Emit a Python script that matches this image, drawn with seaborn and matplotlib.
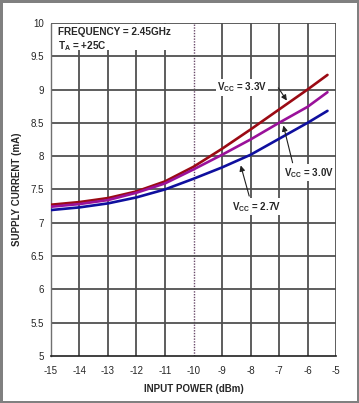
import numpy as np
import pandas as pd
import matplotlib
matplotlib.use("Agg")
import matplotlib.pyplot as plt
import seaborn as sns
from matplotlib.patches import Rectangle

# values
input_power = [-15, -14, -13, -12, -11, -10, -9, -8, -7, -6, -5.3]
i_33 = [7.27, 7.31, 7.37, 7.47, 7.62, 7.84, 8.11, 8.40, 8.70, 9.00, 9.22]
i_30 = [7.24, 7.28, 7.34, 7.45, 7.59, 7.80, 8.02, 8.25, 8.50, 8.74, 8.96]
i_27 = [7.19, 7.23, 7.29, 7.38, 7.50, 7.66, 7.83, 8.02, 8.26, 8.50, 8.68]
series_names = ["3.3V", "3.0V", "2.7V"]
series_colors = ["#9b0a14", "#9a119a", "#0f0f9e"]

x_ticks = list(range(-15, -4))
y_ticks = [5, 5.5, 6, 6.5, 7, 7.5, 8, 8.5, 9, 9.5, 10]
y_ticklabels = ["5", "5.5", "6", "6.5", "7", "7.5", "8", "8.5", "9", "9.5", "10"]

df = pd.DataFrame({
    "power": input_power * 3,
    "current": i_33 + i_30 + i_27,
    "vcc": [n for n in series_names for _ in input_power],
})

sns.set_style("white")
plt.rcParams["font.family"] = ["Liberation Sans", "DejaVu Sans"]
plt.rcParams["mathtext.fontset"] = "custom"
plt.rcParams["mathtext.rm"] = "Liberation Sans:bold"
plt.rcParams["mathtext.it"] = "Liberation Sans:bold"
plt.rcParams["mathtext.bf"] = "Liberation Sans:bold"

fig = plt.figure(figsize=(3.59, 4.03), dpi=100, linewidth=2.5, edgecolor="#808080")
ax = fig.add_axes([0.142, 0.117, 0.794, 0.826])

sns.lineplot(data=df, x="power", y="current", hue="vcc", palette=series_colors,
             hue_order=series_names, linewidth=1.9, legend=False, ax=ax, zorder=3)

ax.set_xlim(-15, -5)
ax.set_ylim(5, 10)
ax.set_xticks(x_ticks)
ax.set_xticklabels([str(t) for t in x_ticks], fontsize=7)
ax.set_yticks(y_ticks)
ax.set_yticklabels(y_ticklabels, fontsize=7)

# grid
for t in x_ticks[1:]:
    if t == -10:
        ax.axvline(t, color="#6a4a6a", lw=1.0, ls=(0, (1, 1)), zorder=1)
    else:
        ax.axvline(t, color="#505050", lw=1.3, zorder=1)
for t in y_ticks[1:]:
    ax.axhline(t, color="#505050", lw=1.3, zorder=1)

for s in ["top", "right"]:
    ax.spines[s].set_visible(False)
ax.spines["left"].set_color("#707070")
ax.spines["left"].set_linestyle((0, (1, 1)))
ax.spines["left"].set_linewidth(1.0)
ax.spines["bottom"].set_color("#202020")
ax.spines["bottom"].set_linewidth(1.2)
ax.tick_params(axis="x", direction="out", length=3, width=1, color="#202020", pad=4)
ax.tick_params(axis="y", direction="out", length=3, width=1, color="#202020", pad=2)

ax.set_xlabel("INPUT POWER (dBm)", fontsize=7, fontweight="bold", labelpad=6)
ax.set_ylabel("SUPPLY CURRENT (mA)", fontsize=7, fontweight="bold", labelpad=6)

# white block behind the condition text, grid hidden there
ax.add_patch(Rectangle((-14.97, 9.6), 4.32, 0.385, facecolor="white",
                       edgecolor="none", zorder=2))
ax.text(-14.75, 9.86, "FREQUENCY = 2.45GHz", fontsize=7.2, fontweight="bold",
        va="center", ha="left", zorder=4)
ax.text(-14.75, 9.66, r"T$_{\rm A}$ = +25C", fontsize=7.2, fontweight="bold",
        va="center", ha="left", zorder=4)

bbox = dict(boxstyle="square,pad=0.15", fc="white", ec="none")
arrow = dict(arrowstyle="-|>", color="#202020", lw=0.8, mutation_scale=8)

ax.annotate("", xy=(-6.67, 8.80), xytext=(-7.08, 9.06), arrowprops=arrow, zorder=5)
ax.text(-8.3, 9.03, r"V$_{\rm CC}$ = 3.3V", fontsize=7, fontweight="bold",
        ha="center", va="center", bbox=bbox, zorder=6)

ax.annotate("", xy=(-6.87, 8.50), xytext=(-6.5, 7.86), arrowprops=arrow, zorder=5)
ax.text(-5.95, 7.75, r"V$_{\rm CC}$ = 3.0V", fontsize=7, fontweight="bold",
        ha="center", va="center", bbox=bbox, zorder=6)

ax.annotate("", xy=(-8.37, 7.90), xytext=(-8.02, 7.36), arrowprops=arrow, zorder=5)
ax.text(-7.79, 7.24, r"V$_{\rm CC}$ = 2.7V", fontsize=7, fontweight="bold",
        ha="center", va="center", bbox=bbox, zorder=6)

fig.savefig("out.png", dpi=100)
